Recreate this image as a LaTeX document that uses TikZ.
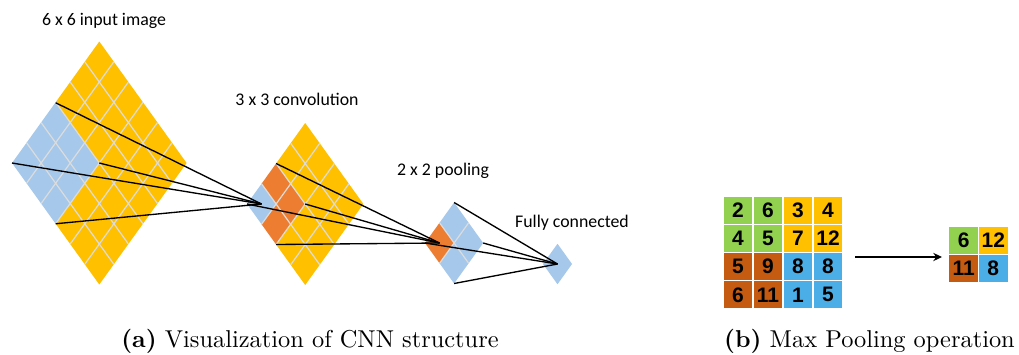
\documentclass[tikz,border=0pt]{standalone}
\usepackage{fontspec}
\newfontfamily\labelfont{Carlito}
\newfontfamily\numfont{Liberation Sans}
\usetikzlibrary{arrows.meta}

\definecolor{gold}{HTML}{FFC000}
\definecolor{lblue}{HTML}{A6C8EA}
\definecolor{dorange}{HTML}{ED7D31}
\definecolor{gridgray}{HTML}{DCDCDC}
\definecolor{mgreen}{HTML}{92D050}
\definecolor{myellow}{HTML}{FFC000}
\definecolor{mbrown}{HTML}{C55A11}
\definecolor{mblue}{HTML}{4BAEE6}

% rhombic cell: half-width and half-height (px units)
\def\cw{14.55}
\def\ch{20.25}

\begin{document}
\begin{tikzpicture}[x=0.41pt,y=-0.41pt,
    gridline/.style={draw=gridgray,line width=0.5pt},
    link/.style={draw=black,line width=0.55pt},
    caption/.style={font=\fontsize{10}{12}\selectfont,anchor=base},
    layerlabel/.style={font=\labelfont\fontsize{7.3}{9}\selectfont,anchor=base},
    valcell/.style={inner sep=0pt,minimum width=11.8pt,minimum height=11pt,
      font=\numfont\bfseries\fontsize{8.6}{9}\selectfont},
    pointer/.style={-{Stealth[length=3.6pt,width=3.4pt]},line width=0.9pt}]
\useasboundingbox (0,0) rectangle (1019,354);

% ---------- 6 x 6 input image ----------
\foreach \i in {0,...,5}{
  \foreach \j in {0,...,5}{
    \pgfmathsetmacro\cx{12+(\i+\j)*\cw}
    \pgfmathsetmacro\cy{163+(\j-\i)*\ch}
    \def\cc{gold}
    \ifnum\i<3 \ifnum\j<3 \def\cc{lblue}\fi\fi
    \fill[\cc] (\cx,\cy) -- ++(\cw,-\ch) -- ++(\cw,\ch) -- ++(-\cw,\ch) -- cycle;
  }
}
\foreach \k in {1,...,5}{
  \pgfmathsetmacro\ax{12+\k*\cw}
  \pgfmathsetmacro\ay{163-\k*\ch}
  \pgfmathsetmacro\by{163+\k*\ch}
  \draw[gridline] (\ax,\ay) -- ++(6*\cw,6*\ch);
  \draw[gridline] (\ax,\by) -- ++(6*\cw,-6*\ch);
}

% ---------- 4 x 4 convolution output ----------
\foreach \i in {0,...,3}{
  \foreach \j in {0,...,3}{
    \pgfmathsetmacro\cx{247+(\i+\j)*\cw}
    \pgfmathsetmacro\cy{204+(\j-\i)*\ch}
    \def\cc{gold}
    \ifnum\i<2 \ifnum\j<2 \def\cc{dorange}\fi\fi
    \ifnum\i=0 \ifnum\j=0 \def\cc{lblue}\fi\fi
    \fill[\cc] (\cx,\cy) -- ++(\cw,-\ch) -- ++(\cw,\ch) -- ++(-\cw,\ch) -- cycle;
  }
}
\foreach \k in {1,...,3}{
  \pgfmathsetmacro\ax{247+\k*\cw}
  \pgfmathsetmacro\ay{204-\k*\ch}
  \pgfmathsetmacro\by{204+\k*\ch}
  \draw[gridline] (\ax,\ay) -- ++(4*\cw,4*\ch);
  \draw[gridline] (\ax,\by) -- ++(4*\cw,-4*\ch);
}

% ---------- 2 x 2 pooling output ----------
\foreach \i in {0,1}{
  \foreach \j in {0,1}{
    \pgfmathsetmacro\cx{425+(\i+\j)*\cw}
    \pgfmathsetmacro\cy{243+(\j-\i)*\ch}
    \def\cc{lblue}
    \ifnum\i=0 \ifnum\j=0 \def\cc{dorange}\fi\fi
    \fill[\cc] (\cx,\cy) -- ++(\cw,-\ch) -- ++(\cw,\ch) -- ++(-\cw,\ch) -- cycle;
  }
}
\pgfmathsetmacro\ax{425+\cw}
\pgfmathsetmacro\ay{243-\ch}
\pgfmathsetmacro\by{243+\ch}
\draw[gridline] (\ax,\ay) -- ++(2*\cw,2*\ch);
\draw[gridline] (\ax,\by) -- ++(2*\cw,-2*\ch);

% ---------- fully connected unit ----------
\pgfmathsetmacro\fx{557.5-\cw}
\fill[lblue] (\fx,264) -- ++(\cw,-\ch) -- ++(\cw,\ch) -- ++(-\cw,\ch) -- cycle;

% ---------- connector end points ----------
\coordinate (inTop)   at (55.65,102.75);
\coordinate (inLeft)  at (12,163);
\coordinate (inRight) at (99.3,163);
\coordinate (inBot)   at (55.65,223.75);
\coordinate (cvC)     at (261.55,204);
\coordinate (cvTop)   at (276.1,163.5);
\coordinate (cvLeft)  at (247,204);
\coordinate (cvRight) at (305.2,204);
\coordinate (cvBot)   at (276.1,244.5);
\coordinate (plC)     at (439.55,243);
\coordinate (plTop)   at (454.1,202.5);
\coordinate (plLeft)  at (425,243);
\coordinate (plRight) at (483.2,243);
\coordinate (plBot)   at (454.1,283.5);
\coordinate (fcC)     at (557.5,264);

\foreach \s in {inTop,inLeft,inRight,inBot}{\draw[link] (\s) -- (cvC);}
\foreach \s in {cvTop,cvLeft,cvRight,cvBot}{\draw[link] (\s) -- (plC);}
\foreach \s in {plTop,plLeft,plRight,plBot}{\draw[link] (\s) -- (fcC);}

% ---------- layer labels ----------
\node[layerlabel] (lblIn)   at (104,25)  {6 x 6 input image};
\node[layerlabel] (lblConv) at (297,105) {3 x 3 convolution};
\node[layerlabel] (lblPool) at (443,175) {2 x 2 pooling};
\node[layerlabel] (lblFc)   at (572,227) {Fully connected};

% ---------- max pooling example ----------
\foreach \r/\row in {0/{2,6,3,4},1/{4,5,7,12},2/{5,9,8,8},3/{6,11,1,5}}{
  \foreach \v [count=\c from 0] in \row{
    \ifnum\r<2
      \ifnum\c<2 \def\cc{mgreen}\else\def\cc{myellow}\fi
    \else
      \ifnum\c<2 \def\cc{mbrown}\else\def\cc{mblue}\fi
    \fi
    \node[valcell,fill=\cc] (big-\r-\c) at ({738+30*\c},{210.1+28.25*\r}) {\v};
  }
}
\foreach \r/\row in {0/{6,12},1/{11,8}}{
  \foreach \v [count=\c from 0] in \row{
    \ifnum\r<1
      \ifnum\c<1 \def\cc{mgreen}\else\def\cc{myellow}\fi
    \else
      \ifnum\c<1 \def\cc{mbrown}\else\def\cc{mblue}\fi
    \fi
    \node[valcell,fill=\cc] (small-\r-\c) at ({963.75+29.5*\c},{240.25+28.5*\r}) {\v};
  }
}
\coordinate (arrS) at (855,257);
\coordinate (arrE) at (942,257);
\draw[pointer] (arrS) -- (arrE);

% ---------- captions ----------
\node[caption] (capA) at (310,347) {\textbf{(a)} Visualization of CNN structure};
\node[caption] (capB) at (869.5,347) {\textbf{(b)} Max Pooling operation};
\end{tikzpicture}
\end{document}
